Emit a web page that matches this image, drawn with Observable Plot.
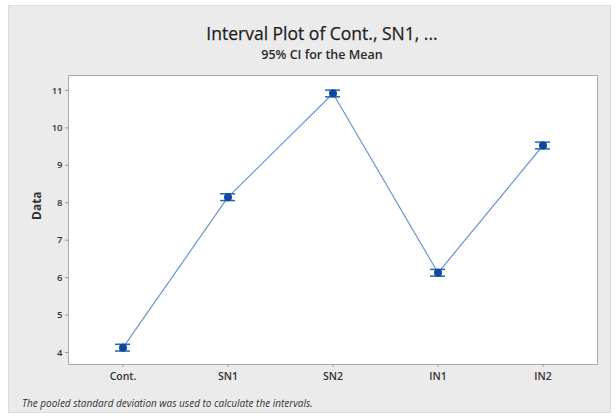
<!DOCTYPE html>
<html>
<head>
<meta charset="utf-8">
<script src="https://cdn.jsdelivr.net/npm/d3@7"></script>
<script src="https://cdn.jsdelivr.net/npm/@observablehq/plot@0.6"></script>
<style>
  body { margin: 0; background: #ffffff; font-family: "Open Sans", "Noto Sans", sans-serif; }
  #page { position: relative; width: 616px; height: 417px; overflow: hidden; }
  #panel { position: absolute; left: 8px; top: 5px; width: 603px; height: 408px; background: #ebebeb; border: 1px solid #dcdcdc; box-sizing: border-box; }
  #title { position: absolute; left: 0; width: 644px; top: 21px; text-align: center; font-size: 17.5px; font-weight: 500; color: #1e1e1e; -webkit-text-stroke: 0.25px #1e1e1e; }
  #subtitle { position: absolute; left: 0; width: 644px; top: 46px; text-align: center; font-size: 12.5px; font-weight: 600; color: #2a2a2a; }
  #chart { position: absolute; left: 0; top: 62px; }
  #caption { position: absolute; left: 22px; top: 396px; font-size: 10px; font-style: italic; color: #333; }
</style>
</head>
<body>
<div id="page">
  <div id="panel"></div>
  <div id="title">Interval Plot of Cont., SN1, ...</div>
  <div id="subtitle">95% CI for the Mean</div>
  <div id="chart"></div>
  <div id="caption">The pooled standard deviation was used to calculate the intervals.</div>
</div>
<script>
const categories = ["Cont.", "SN1", "SN2", "IN1", "IN2"];
const means = [4.13, 8.15, 10.92, 6.13, 9.53];
const lower = [4.04, 8.06, 10.83, 6.04, 9.44];
const upper = [4.22, 8.24, 11.01, 6.22, 9.62];
const yTicks = [4, 5, 6, 7, 8, 9, 10, 11];

const data = categories.map((c, i) => ({cat: c, mean: means[i], lo: lower[i], hi: upper[i]}));

const chart = Plot.plot({
  width: 616,
  height: 330,
  marginLeft: 68,
  marginRight: 19,
  marginTop: 13,
  marginBottom: 28,
  style: {background: "transparent", fontFamily: "'Open Sans', 'Noto Sans', sans-serif", color: "#333"},
  x: {type: "band", domain: categories, paddingInner: 0, paddingOuter: 0},
  y: {domain: [3.68, 11.4]},
  marks: [
    Plot.frame({fill: "white", stroke: "#a9a9a9"}),
    Plot.axisY({ticks: yTicks, tickSize: 3, tickPadding: 3, fontSize: 9.5, fontWeight: 600, label: null, stroke: "#999"}),
    Plot.axisX({tickSize: 3, tickPadding: 5, fontSize: 10.5, fontWeight: 600, label: null, stroke: "#999"}),
    Plot.text(["Data"], {frameAnchor: "left", dx: -31, rotate: -90, fontSize: 12, fontWeight: "bold", fill: "#333"}),
    Plot.line(data, {x: "cat", y: "mean", stroke: "#6b95c9", strokeWidth: 1.2}),
    Plot.ruleX(data, {x: "cat", y1: "lo", y2: "hi", stroke: "#1f5aa8", strokeWidth: 1.8}),
    Plot.tickY(data, {x: "cat", y: "lo", stroke: "#2a62ae", strokeWidth: 1.5, insetLeft: 45, insetRight: 45}),
    Plot.tickY(data, {x: "cat", y: "hi", stroke: "#2a62ae", strokeWidth: 1.5, insetLeft: 45, insetRight: 45}),
    Plot.dot(data, {x: "cat", y: "mean", r: 4, fill: "#0a4a9e", stroke: "none"})
  ]
});
document.getElementById("chart").appendChild(chart);
</script>
</body>
</html>
